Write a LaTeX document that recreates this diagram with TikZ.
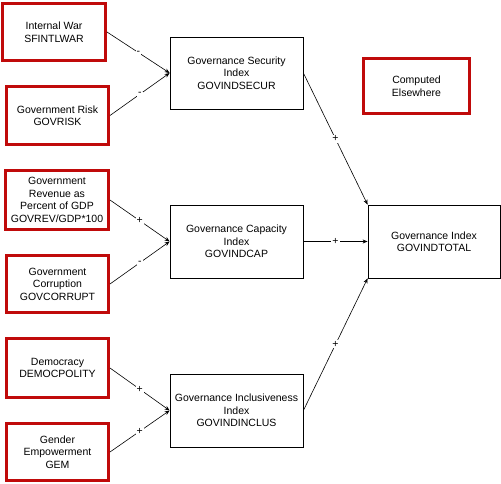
\documentclass[tikz,border=0pt]{standalone}
\usepackage{fontspec}
\setmainfont{Liberation Sans}
\usetikzlibrary{arrows.meta}
\definecolor{boxred}{RGB}{192,10,10}
\begin{document}
\begin{tikzpicture}[x=1pt,y=-1pt,
  txt/.style={font=\fontsize{10.5}{12.5}\selectfont, align=center, inner sep=0pt},
  redbox/.style={txt, draw=boxred, line width=3pt, minimum width=#1},
  redbox/.default=103pt,
  blackbox/.style={txt, draw=black, line width=0.8pt, minimum width=133pt, minimum height=72pt},
  conn/.style={draw=black, line width=0.6pt, -{Stealth[length=5pt,width=4pt]}},
  sign/.style={font=\fontsize{10.5}{12}\selectfont, fill=white, inner sep=1pt, pos=0.5}
]
\useasboundingbox (0,0) rectangle (501,484);
% input boxes
\node[redbox=103pt, minimum height=57pt] (iw) at (54,32) {Internal War\\SFINTLWAR};
\node[redbox=102pt, minimum height=58pt] (gr) at (57.5,115.5) {Government Risk\\GOVRISK};
\node[redbox=103pt, minimum height=59pt] (rev) at (57,200) {Government\\Revenue as\\Percent of GDP\\GOVREV/GDP*100};
\node[redbox=102pt, minimum height=57pt] (cor) at (57.5,284) {Government\\Corruption\\GOVCORRUPT};
\node[redbox=102pt, minimum height=59pt] (dem) at (57.5,368) {Democracy\\DEMOCPOLITY};
\node[redbox=102pt, minimum height=57pt] (gem) at (57.5,452) {Gender\\Empowerment\\GEM};
\node[redbox=106pt, minimum height=55pt] (ce) at (416.5,86) {Computed\\Elsewhere};
% index boxes
\node[blackbox] (sec) at (236.5,73) {Governance Security\\Index\\GOVINDSECUR};
\node[blackbox, minimum height=73pt] (cap) at (236.5,241.5) {Governance Capacity\\Index\\GOVINDCAP};
\node[blackbox, minimum height=73pt] (inc) at (236.5,410.5) {Governance Inclusiveness\\Index\\GOVINDINCLUS};
\node[blackbox, minimum width=132pt, minimum height=73pt] (tot) at (434,241.5) {Governance Index\\GOVINDTOTAL};
% connectors
\draw[conn] (iw.east) -- node[sign] {-} (sec.west);
\draw[conn] (gr.east) -- node[sign] {-} (sec.west);
\draw[conn] (rev.east) -- node[sign] {+} (cap.west);
\draw[conn] (cor.east) -- node[sign] {-} (cap.west);
\draw[conn] (dem.east) -- node[sign] {+} (inc.west);
\draw[conn] (gem.east) -- node[sign] {+} (inc.west);
\draw[conn] (sec.east) -- node[sign] {+} (tot.north west);
\draw[conn] (cap.east) -- node[sign] {+} (tot.west);
\draw[conn] (inc.east) -- node[sign] {+} (tot.south west);
\end{tikzpicture}
\end{document}
